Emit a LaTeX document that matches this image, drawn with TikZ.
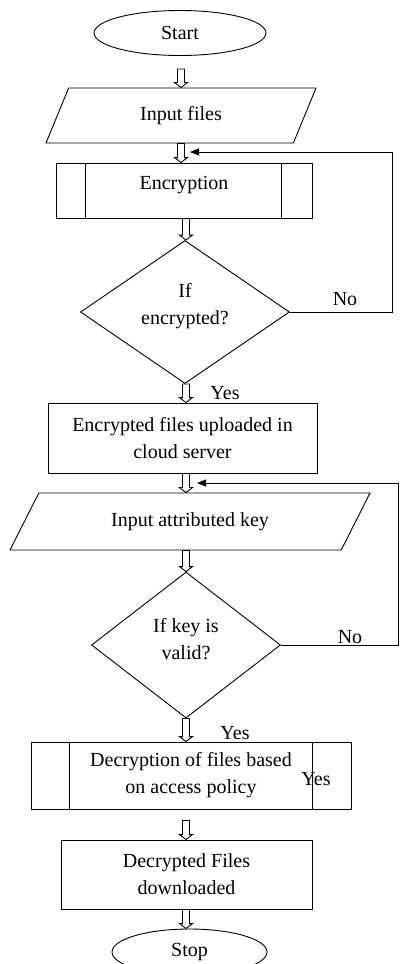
\documentclass[tikz,border=0pt]{standalone}
\usepackage{fontspec}
\setmainfont{Liberation Serif}
\usetikzlibrary{shapes.geometric,arrows.meta,calc}
\newcommand{\harrow}[2]{%
  \draw[ln, fill=white] let \p1=(#1), \p2=(#2) in
    (\x2-3.5pt,\y1) -- (\x2-3.5pt,\y2+5pt) -- (\x2-6.5pt,\y2+5pt) -- (\x2,\y2)
    -- (\x2+6.5pt,\y2+5pt) -- (\x2+3.5pt,\y2+5pt) -- (\x2+3.5pt,\y1) -- cycle;}
\begin{document}
\begin{tikzpicture}[x=1pt,y=-1pt,
  every node/.style={font=\fontsize{20}{27}\selectfont, inner sep=0pt, align=center},
  ln/.style={draw=black, line width=0.9pt},
  term/.style={ln, ellipse},
  io/.style={ln, trapezium, trapezium stretches body},
  proc/.style={ln, rectangle},
  dec/.style={ln, diamond},
  fb/.style={ln, -{Triangle[length=9pt,width=7pt]}}]
\useasboundingbox (0,0) rectangle (399,964);
\fill[white] (0,0) rectangle (399,964);
\clip (0,0) rectangle (399,964);
\coordinate (c1) at (181,0);
\coordinate (c2) at (186,0);
\coordinate (r1) at (392,0);
\coordinate (r2) at (398,0);
\coordinate (t1) at (190,152);
\coordinate (t2) at (197,483);

\node[term, minimum width=172pt, minimum height=45pt] (start) at (180,33) {Start};
\node[io, trapezium left angle=39, trapezium right angle=141, minimum width=270pt, minimum height=55pt] (in) at (181,115.5) {Input files};
\node[proc, minimum width=256pt, minimum height=55pt, text height=13pt, text depth=16pt] (enc) at (184,190.5) {Encryption};
\draw[ln] ([xshift=30pt]enc.north west) -- ([xshift=30pt]enc.south west);
\draw[ln] ([xshift=-31pt]enc.north east) -- ([xshift=-31pt]enc.south east);
\node[dec, minimum width=209pt, minimum height=143pt] (d1) at (185,312) {};
\node (d1t) at ([yshift=6pt]d1.center) {If\\encrypted?};
\node[proc, minimum width=269pt, minimum height=70pt] (up) at (182.5,438) {Encrypted files uploaded in\\cloud server};
\node[io, trapezium left angle=32.3, trapezium right angle=147.7, minimum width=360pt, minimum height=57pt] (key) at (190,521.5) {Input attributed key};
\node[dec, minimum width=189pt, minimum height=146pt] (d2) at (186,645) {};
\node (d2t) at ([yshift=6pt]d2.center) {If key is\\valid?};
\node[proc, minimum width=320pt, minimum height=67pt] (decr) at (191,775.5) {Decryption of files based\\on access policy};
\draw[ln] ([xshift=39pt]decr.north west) -- ([xshift=39pt]decr.south west);
\draw[ln] ([xshift=-39pt]decr.north east) -- ([xshift=-39pt]decr.south east);
\node[proc, minimum width=251pt, minimum height=69pt] (dl) at (186.5,874.5) {Decrypted Files\\downloaded};
\node[term, minimum width=155pt, minimum height=46pt] (stop) at (189.5,952) {Stop};

\node (no1) at (345,299) {No};
\node (yes1) at (225,393) {Yes};
\node (no2) at (350,637) {No};
\node (yes2) at (235,733) {Yes};
\node (yes3) at (316,779) {Yes};

\harrow{[yshift=-13pt]start.south -| c1}{in.north -| c1}
\harrow{in.south -| c1}{enc.north -| c1}
\harrow{enc.south -| c2}{d1.north -| c2}
\harrow{d1.south -| c2}{up.north -| c2}
\harrow{up.south -| c2}{key.north -| c2}
\harrow{key.south -| c2}{d2.north -| c2}
\harrow{d2.south -| c2}{decr.north -| c2}
\harrow{[yshift=-11pt]decr.south -| c2}{dl.north -| c2}
\harrow{dl.south -| c2}{stop.north -| c2}

\draw[fb] (d1.east) -- (d1.east -| r1) -- (r1 |- t1) -- (t1);
\draw[fb] (d2.east) -- (d2.east -| r2) -- (r2 |- t2) -- (t2);
\end{tikzpicture}
\end{document}
